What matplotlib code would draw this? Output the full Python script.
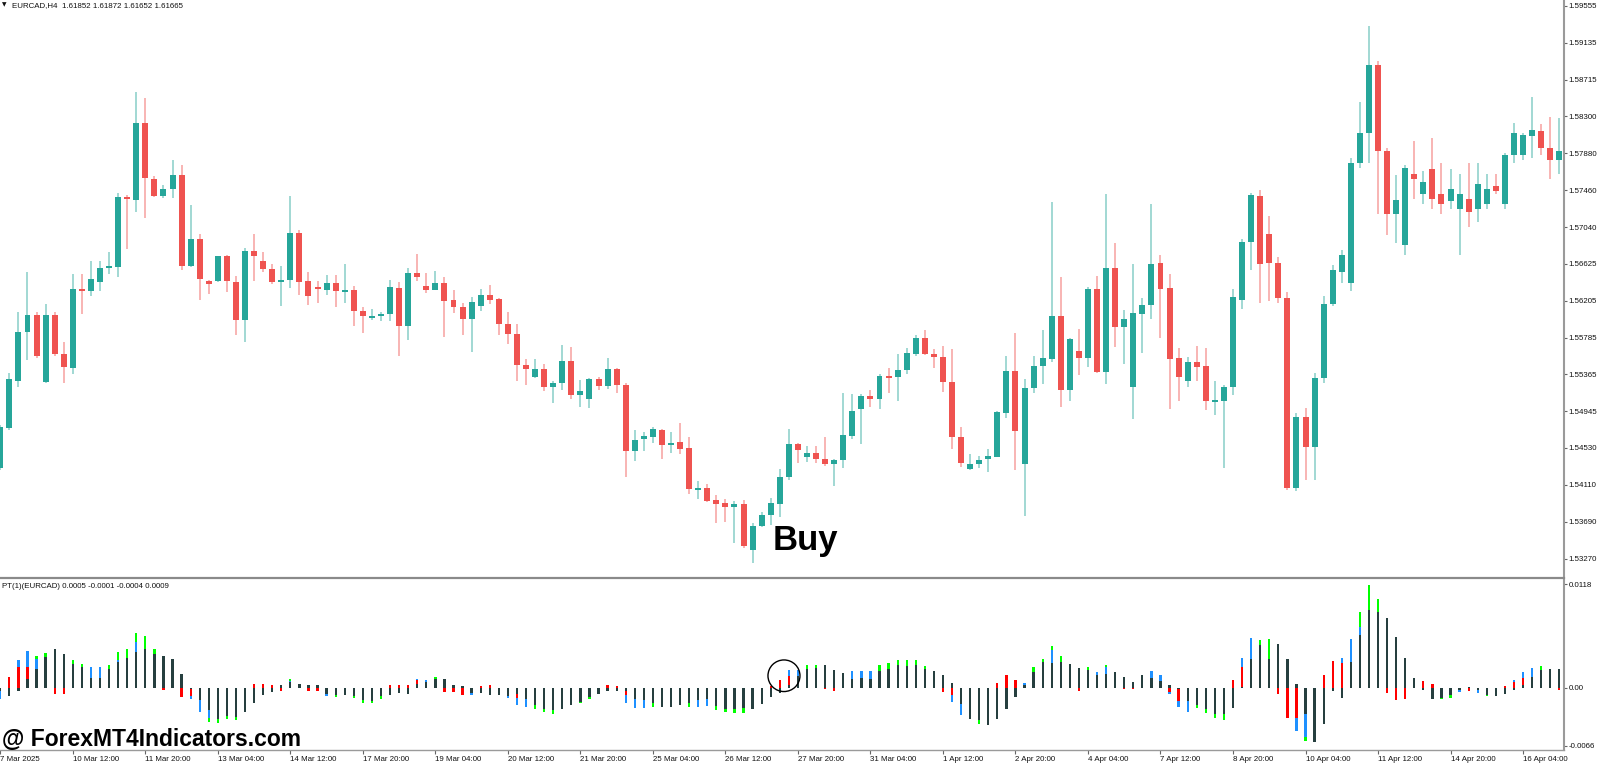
import numpy as np
import matplotlib
matplotlib.use("Agg")
import matplotlib.pyplot as plt
from matplotlib.lines import Line2D
from matplotlib.patches import Ellipse

# ---------------- data (EURCAD H4) ----------------
OPEN = [
    1.54302, 1.54757, 1.55294, 1.55845, 1.56045, 1.55280, 1.56045, 1.55595, 1.55442, 1.56340,
    1.56318, 1.56417, 1.56579, 1.56591, 1.57380, 1.57349, 1.58221, 1.57584, 1.57394, 1.57474,
    1.57637, 1.56599, 1.56906, 1.56425, 1.56425, 1.56716, 1.56417, 1.55985, 1.56773, 1.56659,
    1.56568, 1.56420, 1.56439, 1.56970, 1.56425, 1.56356, 1.56326, 1.56405, 1.56311, 1.56322,
    1.56090, 1.56007, 1.56030, 1.56053, 1.56348, 1.55920, 1.56516, 1.56375, 1.56329, 1.56405,
    1.56212, 1.56129, 1.55993, 1.56147, 1.56269, 1.56220, 1.55939, 1.55825, 1.55473, 1.55340,
    1.55424, 1.55219, 1.55265, 1.55518, 1.55128, 1.55083, 1.55317, 1.55238, 1.55424, 1.55246,
    1.54499, 1.54628, 1.54658, 1.54737, 1.54563, 1.54594, 1.54526, 1.54055, 1.54071, 1.53935,
    1.53900, 1.53862, 1.53889, 1.53373, 1.53642, 1.53767, 1.53896, 1.54203, 1.54571, 1.54430,
    1.54472, 1.54408, 1.54351, 1.54389, 1.54666, 1.54976, 1.55117, 1.55090, 1.55348, 1.55333,
    1.55420, 1.55595, 1.55780, 1.55598, 1.55567, 1.55276, 1.54654, 1.54290, 1.54344, 1.54401,
    1.54430, 1.54927, 1.55405, 1.54347, 1.55215, 1.55458, 1.55545, 1.56030, 1.55192, 1.55629,
    1.55549, 1.56337, 1.55390, 1.56572, 1.55902, 1.55223, 1.56056, 1.56152, 1.56633, 1.56345,
    1.55549, 1.55294, 1.55510, 1.55462, 1.55056, 1.55067, 1.55223, 1.56212, 1.56875, 1.57398,
    1.56962, 1.56633, 1.56235, 1.54074, 1.54887, 1.54541, 1.55325, 1.56167, 1.56530, 1.56405,
    1.57770, 1.58111, 1.58884, 1.57906, 1.57190, 1.56837, 1.57650, 1.57417, 1.57707, 1.57417,
    1.57338, 1.57247, 1.57360, 1.57247, 1.57304, 1.57508, 1.57304, 1.57861, 1.57861, 1.58080,
    1.58137, 1.57940, 1.57804,
]
HIGH = [
    1.54791, 1.55382, 1.56076, 1.56534, 1.56076, 1.56163, 1.56072, 1.55731, 1.56504, 1.56504,
    1.56655, 1.56655, 1.56758, 1.57425, 1.57409, 1.58577, 1.58505, 1.57622, 1.57520, 1.57804,
    1.57747, 1.57292, 1.56966, 1.56439, 1.56712, 1.56724, 1.56488, 1.56800, 1.56966, 1.56758,
    1.56621, 1.56599, 1.57394, 1.57008, 1.56527, 1.56431, 1.56496, 1.56496, 1.56621, 1.56371,
    1.56129, 1.56113, 1.56079, 1.56439, 1.56413, 1.56572, 1.56735, 1.56516, 1.56545, 1.56474,
    1.56322, 1.56174, 1.56243, 1.56340, 1.56383, 1.56238, 1.56072, 1.55936, 1.55545, 1.55541,
    1.55481, 1.55294, 1.55700, 1.55674, 1.55299, 1.55329, 1.55340, 1.55556, 1.55442, 1.55272,
    1.54734, 1.54711, 1.54765, 1.54745, 1.54715, 1.54817, 1.54654, 1.54151, 1.54117, 1.53991,
    1.53953, 1.53927, 1.53938, 1.53673, 1.53805, 1.53957, 1.54290, 1.54742, 1.54590, 1.54549,
    1.54549, 1.54658, 1.54408, 1.55151, 1.55140, 1.55140, 1.55185, 1.55374, 1.55435, 1.55601,
    1.55666, 1.55811, 1.55867, 1.55651, 1.55689, 1.55658, 1.54771, 1.54458, 1.54438, 1.54518,
    1.54945, 1.55575, 1.55840, 1.55317, 1.55579, 1.55871, 1.57323, 1.56477, 1.55775, 1.55879,
    1.56363, 1.56485, 1.57414, 1.56860, 1.56098, 1.56625, 1.56238, 1.57307, 1.56724, 1.56508,
    1.55663, 1.55567, 1.55689, 1.55663, 1.55291, 1.55246, 1.56337, 1.56906, 1.57425, 1.57463,
    1.57167, 1.56700, 1.56300, 1.54922, 1.54984, 1.55382, 1.56257, 1.56610, 1.56780, 1.57827,
    1.58463, 1.59333, 1.58929, 1.57940, 1.57633, 1.57747, 1.58020, 1.57673, 1.58054, 1.57770,
    1.57707, 1.57650, 1.57770, 1.57770, 1.57650, 1.57650, 1.57883, 1.58230, 1.58111, 1.58524,
    1.58210, 1.58289, 1.58278,
]
LOW = [
    1.54279, 1.54734, 1.55226, 1.55530, 1.55556, 1.55270, 1.55579, 1.55265, 1.55367, 1.56056,
    1.56257, 1.56318, 1.56504, 1.56470, 1.56795, 1.57216, 1.57144, 1.57383, 1.57368, 1.57368,
    1.56553, 1.56585, 1.56212, 1.56280, 1.56420, 1.56306, 1.55814, 1.55738, 1.56431, 1.56534,
    1.56394, 1.56147, 1.56352, 1.56269, 1.56155, 1.56174, 1.56269, 1.56136, 1.56181, 1.55916,
    1.55840, 1.55985, 1.55977, 1.55977, 1.55575, 1.55757, 1.56431, 1.56295, 1.56326, 1.55795,
    1.56068, 1.55811, 1.55617, 1.56090, 1.56167, 1.55814, 1.55708, 1.55291, 1.55246, 1.55330,
    1.55181, 1.55044, 1.55189, 1.55086, 1.54992, 1.54981, 1.55192, 1.55204, 1.55151, 1.54196,
    1.54385, 1.54499, 1.54590, 1.54408, 1.54476, 1.54458, 1.54010, 1.53946, 1.53915, 1.53673,
    1.53688, 1.53446, 1.53389, 1.53218, 1.53628, 1.53654, 1.53741, 1.54165, 1.54355, 1.54373,
    1.54362, 1.54328, 1.54101, 1.54298, 1.54628, 1.54578, 1.54999, 1.54976, 1.55158, 1.55060,
    1.55374, 1.55579, 1.55587, 1.55439, 1.55163, 1.54521, 1.54317, 1.54276, 1.54305, 1.54253,
    1.54423, 1.54867, 1.54279, 1.53756, 1.55155, 1.55260, 1.55510, 1.54995, 1.55067, 1.55359,
    1.55454, 1.55379, 1.55257, 1.55678, 1.55481, 1.54856, 1.55609, 1.55996, 1.55777, 1.54976,
    1.55067, 1.55223, 1.55294, 1.54961, 1.54904, 1.54305, 1.55132, 1.56106, 1.56553, 1.56181,
    1.56201, 1.56180, 1.54052, 1.54040, 1.54165, 1.54165, 1.55268, 1.56144, 1.56405, 1.56314,
    1.57713, 1.57770, 1.57190, 1.56951, 1.56860, 1.56724, 1.57360, 1.57304, 1.57247, 1.57190,
    1.57247, 1.56724, 1.57045, 1.57093, 1.57247, 1.57417, 1.57247, 1.57770, 1.57804, 1.57827,
    1.57861, 1.57588, 1.57649,
]
CLOSE = [
    1.54768, 1.55314, 1.55852, 1.56045, 1.55579, 1.56045, 1.55595, 1.55447, 1.56340, 1.56318,
    1.56447, 1.56576, 1.56595, 1.57380, 1.57357, 1.58221, 1.57603, 1.57394, 1.57474, 1.57637,
    1.56599, 1.56906, 1.56451, 1.56397, 1.56709, 1.56425, 1.55981, 1.56773, 1.56716, 1.56564,
    1.56413, 1.56439, 1.56974, 1.56420, 1.56261, 1.56337, 1.56405, 1.56311, 1.56326, 1.56090,
    1.56030, 1.56030, 1.56053, 1.56356, 1.55920, 1.56516, 1.56477, 1.56329, 1.56405, 1.56204,
    1.56129, 1.55993, 1.56189, 1.56269, 1.56215, 1.55939, 1.55825, 1.55470, 1.55427, 1.55424,
    1.55219, 1.55268, 1.55518, 1.55128, 1.55174, 1.55314, 1.55238, 1.55424, 1.55246, 1.54499,
    1.54617, 1.54662, 1.54745, 1.54563, 1.54583, 1.54521, 1.54066, 1.54071, 1.53930, 1.53896,
    1.53862, 1.53889, 1.53418, 1.53646, 1.53767, 1.53900, 1.54203, 1.54571, 1.54503, 1.54469,
    1.54408, 1.54351, 1.54396, 1.54674, 1.54950, 1.55124, 1.55090, 1.55344, 1.55329, 1.55420,
    1.55609, 1.55780, 1.55595, 1.55567, 1.55280, 1.54651, 1.54362, 1.54347, 1.54396, 1.54438,
    1.54939, 1.55405, 1.54723, 1.55215, 1.55462, 1.55553, 1.56030, 1.55192, 1.55769, 1.55549,
    1.56337, 1.55390, 1.56572, 1.55902, 1.55999, 1.56061, 1.56155, 1.56625, 1.56334, 1.55541,
    1.55333, 1.55510, 1.55454, 1.55060, 1.55072, 1.55223, 1.56246, 1.56875, 1.57406, 1.56618,
    1.56633, 1.56235, 1.54074, 1.54887, 1.54541, 1.55325, 1.56167, 1.56553, 1.56724, 1.57770,
    1.58111, 1.58884, 1.57906, 1.57190, 1.57349, 1.57713, 1.57591, 1.57557, 1.57360, 1.57304,
    1.57474, 1.57417, 1.57213, 1.57531, 1.57474, 1.57451, 1.57861, 1.58111, 1.58088, 1.58145,
    1.57937, 1.57804, 1.57906,
]

# PT(1) indicator: four histogram buffers
PT_DARK = [
    -0.00038, -0.00091, -0.00038, 0.00102, 0.00220, 0.00353, 0.00447, 0.00390, 0.00277, 0.00239,
    0.00117, 0.00117, 0.00220, 0.00296, 0.00345, 0.00410, 0.00440, 0.00390, 0.00364, 0.00333,
    0.00163, -0.00011, -0.00140, -0.00254, -0.00356, -0.00319, -0.00327, -0.00273, -0.00171, -0.00080,
    -0.00046, 0.00038, 0.00063, 0.00046, 0.00031, 0.00031, -0.00065, -0.00080, -0.00080, -0.00093,
    -0.00140, -0.00145, -0.00097, -0.00083, -0.00057, -0.00065, 0.00049, 0.00068, 0.00106, 0.00106,
    0.00038, 0.00019, -0.00057, -0.00053, -0.00083, -0.00083, -0.00094, -0.00065, -0.00122, -0.00197,
    -0.00236, -0.00254, -0.00236, -0.00197, -0.00159, -0.00102, -0.00065, -0.00038, -0.00038, -0.00034,
    -0.00122, -0.00137, -0.00167, -0.00216, -0.00216, -0.00190, -0.00167, -0.00140, -0.00122, -0.00205,
    -0.00236, -0.00236, -0.00228, -0.00236, -0.00185, -0.00102, -0.00053, 0.00031, 0.00137, 0.00220,
    0.00228, 0.00258, 0.00201, 0.00171, 0.00106, 0.00114, 0.00106, 0.00193, 0.00220, 0.00258,
    0.00250, 0.00258, 0.00213, 0.00190, 0.00145, 0.00057, -0.00179, -0.00356, -0.00368, -0.00424,
    -0.00356, -0.00236, -0.00102, 0.00038, 0.00182, 0.00296, 0.00288, 0.00296, 0.00277, 0.00228,
    0.00201, 0.00151, 0.00163, 0.00182, 0.00125, 0.00068, 0.00145, 0.00114, 0.00076, 0.00031,
    -0.00011, -0.00151, -0.00197, -0.00242, -0.00292, -0.00292, -0.00228, 0.00011, 0.00333, 0.00486,
    0.00333, 0.00504, 0.00333, 0.00049, -0.00292, -0.00615, -0.00406, -0.00034, -0.00114, 0.00296,
    0.00600, 0.00884, 0.00865, 0.00797, 0.00577, 0.00341, 0.00114, -0.00019, -0.00122, -0.00114,
    -0.00083, -0.00019, 0.00011, -0.00019, -0.00076, -0.00088, -0.00068, -0.00023, 0.00034, 0.00129,
    0.00199, 0.00216, 0.00216,
]
PT_RED = [
    0, 0.00122, 0.00239, 0.00239, 0, 0, -0.00072, -0.00072, 0, 0,
    0, 0, 0, 0, 0, 0, 0, 0, -0.00026, 0,
    -0.00102, -0.00094, 0, 0, 0, 0, 0, 0, 0.00040, 0.00049,
    0.00031, -0.00034, 0, 0, -0.00034, -0.00034, 0, 0, 0, 0,
    0, 0, 0, 0.00038, 0.00031, 0.00031, 0.00088, 0, 0, -0.00046,
    -0.00046, -0.00076, 0, 0.00019, 0.00031, 0, 0, -0.00114, 0, 0,
    0, 0, 0, 0, 0, 0, 0, 0.00031, 0.00026, -0.00083,
    0, 0, 0, 0, 0, 0, 0, 0, 0, 0,
    0, 0, 0, 0, 0, 0.00023, 0.00094, 0.00133, 0, 0,
    0, -0.00015, -0.00031, 0, 0, 0, 0, 0, 0, 0,
    0, 0, 0, 0, -0.00046, -0.00083, 0, 0, 0, 0,
    0.00060, 0.00145, 0.00088, 0, 0, 0, 0, 0, 0, -0.00038,
    0, 0, 0, 0, -0.00015, -0.00015, 0, 0, 0, -0.00046,
    -0.00151, 0, 0, 0, 0, 0, 0.00088, 0.00239, 0, 0,
    0, -0.00065, -0.00341, -0.00341, 0, 0, 0.00145, 0.00304, 0.00288, 0,
    0, 0, 0, -0.00057, -0.00140, -0.00125, 0, 0.00076, 0.00046, 0,
    0, 0, -0.00031, 0, 0, 0, 0.00028, 0.00065, 0.00114, 0,
    0, 0, -0.00025,
]
PT_BLUE = [
    -0.00122, 0, 0.00322, 0.00421, 0.00333, 0, 0, 0, 0, 0,
    0.00239, 0.00239, 0, 0.00315, 0, 0.00523, 0, 0, 0, 0,
    0, -0.00129, -0.00273, -0.00341, 0, 0, 0, 0, 0, 0,
    0, 0, 0.00080, 0, 0, 0, -0.00091, 0, 0, 0,
    0, 0, 0, 0, 0, 0, 0.00106, 0.00094, 0, 0,
    0, 0, -0.00076, 0, 0, 0, -0.00114, -0.00190, -0.00216, 0,
    0, 0, 0, 0, 0, 0, 0, 0, 0, -0.00167,
    -0.00228, -0.00228, 0, 0, 0, 0, 0, -0.00216, -0.00205, 0,
    0, 0, 0, 0, 0, 0, 0, 0.00208, 0.00205, 0,
    0, 0, 0, 0, 0.00193, 0.00193, 0.00193, 0, 0, 0,
    0, 0, 0, 0, 0, -0.00159, -0.00304, 0, 0, 0,
    0, 0, 0, 0.00060, 0, 0, 0.00429, 0, 0, 0,
    0, 0.00182, 0.00239, 0, 0, 0, 0, 0.00193, 0.00151, -0.00065,
    -0.00216, -0.00273, 0, 0, 0, 0, 0, 0.00345, 0.00572, 0,
    0, 0, 0, -0.00489, -0.00558, 0, 0, 0, 0.00345, 0.00561,
    0.00694, 0, 0, 0, 0, 0, 0, 0, 0, 0,
    0, -0.00046, 0, -0.00057, 0, 0, 0, 0.00085, 0.00185, 0.00231,
    0, 0, 0,
]
PT_GREEN = [
    0, 0, 0, 0, 0.00364, 0.00402, 0, 0, 0.00322, 0.00277,
    0, 0, 0.00265, 0.00410, 0.00447, 0.00629, 0.00588, 0.00440, 0, 0,
    0, 0, 0, -0.00387, -0.00398, -0.00349, -0.00370, 0, 0, 0,
    0, 0, 0.00097, 0, 0, 0, 0, -0.00105, 0, -0.00116,
    -0.00167, -0.00176, -0.00125, 0, 0, 0, 0, 0, 0.00125, 0,
    0, 0, 0, 0, 0, 0, 0, 0, 0, -0.00242,
    -0.00273, -0.00299, 0, 0, -0.00171, -0.00122, 0, 0, 0, 0,
    0, 0, -0.00216, 0, 0, 0, -0.00216, 0, 0, -0.00254,
    -0.00273, -0.00281, -0.00281, 0, 0, 0, 0, 0, 0, 0.00265,
    0.00265, 0, 0, 0, 0, 0, 0, 0.00258, 0.00285, 0.00315,
    0.00315, 0.00315, 0.00250, 0, 0, 0, 0, 0, -0.00413, 0,
    0, 0, 0, 0, 0.00239, 0.00333, 0.00478, 0.00364, 0, 0,
    0.00239, 0, 0.00265, 0, 0, 0, 0, 0, 0, 0,
    0, 0, -0.00228, -0.00281, -0.00338, -0.00368, 0, 0, 0, 0.00543,
    0.00554, 0, 0, 0, -0.00607, 0, 0, 0, 0, 0,
    0.00865, 0.01169, 0.01016, 0, 0, 0, 0, 0, 0, -0.00129,
    -0.00114, 0, 0, 0, -0.00094, 0, 0, 0, 0, 0,
    0.00245, 0, 0,
]

TIME_LABELS = ["7 Mar 2025", "10 Mar 12:00", "11 Mar 20:00", "13 Mar 04:00", "14 Mar 12:00",
               "17 Mar 20:00", "19 Mar 04:00", "20 Mar 12:00", "21 Mar 20:00", "25 Mar 04:00",
               "26 Mar 12:00", "27 Mar 20:00", "31 Mar 04:00", "1 Apr 12:00", "2 Apr 20:00",
               "4 Apr 04:00", "7 Apr 12:00", "8 Apr 20:00", "10 Apr 04:00", "11 Apr 12:00",
               "14 Apr 20:00", "16 Apr 04:00"]
TIME_LABEL_BARS = [0, 8, 16, 24, 32, 40, 48, 56, 64, 72, 80, 88, 96, 104, 112, 120,
                   128, 136, 144, 152, 160, 168]
PRICE_TICKS = [1.59555, 1.59135, 1.58715, 1.58300, 1.57880, 1.57460, 1.57040, 1.56625,
               1.56205, 1.55785, 1.55365, 1.54945, 1.54530, 1.54110, 1.53690, 1.53270]
PT_TICKS = [0.0118, 0.0, -0.0066]
PT_TICK_LABELS = ["0.0118", "0.00", "-0.0066"]
HEADER = "EURCAD,H4  1.61852 1.61872 1.61652 1.61665"
PT_HEADER = "PT(1)(EURCAD) 0.0005 -0.0001 -0.0004 0.0009"
SIGNAL_BAR = 86
SIGNAL_LEVEL = 0.00139

# ---------------- layout ----------------
W, H, DPI = 1600, 764, 100
FONT = "Liberation Sans"
UP, DOWN = "#26a69a", "#ef5350"
DARK, RED, BLUE, LIME = "#263f3f", "#ff0000", "#1e90ff", "#00ff00"
AXIS_GRAY = "#9a9a9a"
PLOT_RIGHT = 1563.5
BAR_PX = 9.064
X0_PX = 0.3

fig = plt.figure(figsize=(W / DPI, H / DPI), dpi=DPI)
fig.patch.set_facecolor("white")


def rect(x0, top, x1, bottom):
    return [x0 / W, 1 - bottom / H, (x1 - x0) / W, (bottom - top) / H]


ax = fig.add_axes(rect(0, 0, PLOT_RIGHT, 577))
axi = fig.add_axes(rect(0, 579, PLOT_RIGHT, 750))

xlim = (-X0_PX / BAR_PX, (PLOT_RIGHT - X0_PX) / BAR_PX)
for a in (ax, axi):
    a.set_xlim(*xlim)
    for s in a.spines.values():
        s.set_visible(False)
    a.set_facecolor("white")

ax.set_ylim(1.53062, 1.59623)
axi.set_ylim(-0.00706, 0.01240)

# ---------------- candles ----------------
o = np.array(OPEN); h = np.array(HIGH); l = np.array(LOW); c = np.array(CLOSE)
n = min(len(o), len(h), len(l), len(c))
o, h, l, c = o[:n], h[:n], l[:n], c[:n]
x = np.arange(n)
up = c >= o
cols = np.where(up, UP, DOWN)
ax.vlines(x, l, h, colors=cols, linewidth=1.1, alpha=0.55, zorder=2)
min_body = 0.00022
body_h = np.maximum(np.abs(c - o), min_body)
mid = (o + c) / 2
ax.bar(x, body_h, bottom=mid - body_h / 2, width=0.66, color=cols, linewidth=0, zorder=3)

# ---------------- indicator ----------------
m = len(PT_DARK)
xi = np.arange(m)
for vals, colr in ((PT_GREEN, LIME), (PT_BLUE, BLUE), (PT_RED, RED), (PT_DARK, DARK)):
    v = np.array(vals[:m], dtype=float)
    axi.bar(xi, v, width=0.25, color=colr, linewidth=0, zorder=3)

axi.add_patch(Ellipse((SIGNAL_BAR + 0.46, SIGNAL_LEVEL), width=32 / BAR_PX,
                      height=31.6 * (0.01946 / 171), fill=False, edgecolor="black",
                      linewidth=1.0, zorder=5))

# ---------------- axes / ticks ----------------
ax.set_xticks([])
ax.yaxis.tick_right()
ax.set_yticks(PRICE_TICKS)
ax.set_yticklabels([f"{p:.5f}" for p in PRICE_TICKS])
ax.tick_params(axis="y", length=2, width=0.8, color="#666666", pad=1.8,
               labelsize=5.7, labelcolor="#111111")

axi.yaxis.tick_right()
axi.set_yticks(PT_TICKS)
axi.set_yticklabels(PT_TICK_LABELS)
axi.tick_params(axis="y", length=2, width=0.8, color="#666666", pad=1.8,
                labelsize=5.7, labelcolor="#111111")
axi.set_xticks(TIME_LABEL_BARS)
axi.set_xticklabels(TIME_LABELS)
axi.tick_params(axis="x", length=3, width=0.8, color="#666666", pad=1.2,
                labelsize=5.7, labelcolor="#111111")
for t in axi.get_xticklabels():
    t.set_ha("left")
for t in ax.get_yticklabels() + axi.get_yticklabels() + axi.get_xticklabels():
    t.set_fontfamily(FONT)

# frame lines (pixel layout)
fig.add_artist(Line2D([PLOT_RIGHT / W] * 2, [1 - 750 / H, 1], transform=fig.transFigure,
                      color=AXIS_GRAY, linewidth=1.5))
fig.add_artist(Line2D([0, PLOT_RIGHT / W], [1 - 578 / H] * 2, transform=fig.transFigure,
                      color="#8a8a8a", linewidth=1.6))
fig.add_artist(Line2D([0, PLOT_RIGHT / W], [1 - 750.3 / H] * 2, transform=fig.transFigure,
                      color=AXIS_GRAY, linewidth=1.0))

# ---------------- texts ----------------
fig.text(2 / W, 1 - 5 / H, "\u25BC", fontsize=4.2, family="DejaVu Sans",
         va="center", ha="left", color="#111111")
fig.text(12 / W, 1 - 5.2 / H, HEADER, fontsize=5.7, family=FONT, va="center",
         ha="left", color="#111111")
fig.text(2.5 / W, 1 - 586 / H, PT_HEADER, fontsize=5.7, family=FONT, va="center",
         ha="left", color="#111111")
fig.text(773 / W, 1 - 550 / H, "Buy", fontsize=25, family=FONT, weight="bold",
         va="baseline", ha="left", color="black")
fig.text(2 / W, 1 - 746.5 / H, "@ ForexMT4Indicators.com", fontsize=16.5, family=FONT,
         weight="bold", va="baseline", ha="left", color="black")

fig.savefig("out.png", dpi=DPI, facecolor="white")
